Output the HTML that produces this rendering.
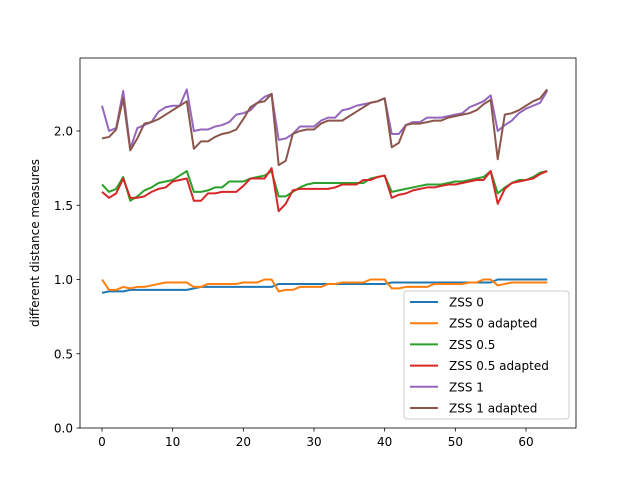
<!DOCTYPE html>
<html><head><meta charset="utf-8"><style>
body{margin:0;background:#fff;}
svg text{font-family:"DejaVu Sans","Liberation Sans",sans-serif;font-size:12px;fill:#000;}
</style></head><body>
<svg id="chart" width="640" height="480" xmlns="http://www.w3.org/2000/svg">
<rect width="640" height="480" fill="#fff"/>
<g id="plot"></g>
<rect x="80" y="58" width="496" height="370" fill="none" stroke="#000" stroke-width="0.8"/>
<g id="xt"></g><g id="yt"></g>
<text x="39" y="243" text-anchor="middle" transform="rotate(-90 39 243)">different distance measures</text>
<g id="legend"></g>
</svg>
<script>
const seriesNames=["ZSS 0","ZSS 0 adapted","ZSS 0.5","ZSS 0.5 adapted","ZSS 1","ZSS 1 adapted"];
const colors=["#1f77b4","#ff7f0e","#2ca02c","#d62728","#9467bd","#8c564b"];
const xTicks=[0,10,20,30,40,50,60];
const yTicks=[0.0,0.5,1.0,1.5,2.0];
const zss0=[0.91,0.92,0.92,0.92,0.93,0.93,0.93,0.93,0.93,0.93,0.93,0.93,0.93,0.94,0.95,0.95,0.95,0.95,0.95,0.95,0.95,0.95,0.95,0.95,0.95,0.97,0.97,0.97,0.97,0.97,0.97,0.97,0.97,0.97,0.97,0.97,0.97,0.97,0.97,0.97,0.97,0.98,0.98,0.98,0.98,0.98,0.98,0.98,0.98,0.98,0.98,0.98,0.98,0.98,0.98,0.98,1.00,1.00,1.00,1.00,1.00,1.00,1.00,1.00];
const zss0a=[1.00,0.93,0.93,0.95,0.94,0.95,0.95,0.96,0.97,0.98,0.98,0.98,0.98,0.95,0.95,0.97,0.97,0.97,0.97,0.97,0.98,0.98,0.98,1.00,1.00,0.92,0.93,0.93,0.95,0.95,0.95,0.95,0.97,0.97,0.98,0.98,0.98,0.98,1.00,1.00,1.00,0.94,0.94,0.95,0.95,0.95,0.95,0.97,0.97,0.97,0.97,0.97,0.98,0.98,1.00,1.00,0.96,0.97,0.98,0.98,0.98,0.98,0.98,0.98];
const zss05=[1.64,1.59,1.61,1.69,1.53,1.56,1.60,1.62,1.65,1.66,1.67,1.70,1.73,1.59,1.59,1.60,1.62,1.62,1.66,1.66,1.66,1.68,1.69,1.70,1.73,1.56,1.56,1.59,1.62,1.64,1.65,1.65,1.65,1.65,1.65,1.65,1.65,1.65,1.68,1.69,1.70,1.59,1.60,1.61,1.62,1.63,1.64,1.64,1.64,1.65,1.66,1.66,1.67,1.68,1.69,1.73,1.58,1.62,1.65,1.67,1.67,1.69,1.72,1.73];
const zss05a=[1.59,1.55,1.58,1.68,1.55,1.55,1.56,1.59,1.61,1.62,1.66,1.67,1.68,1.53,1.53,1.58,1.58,1.59,1.59,1.59,1.63,1.68,1.68,1.68,1.75,1.46,1.51,1.60,1.61,1.61,1.61,1.61,1.61,1.62,1.64,1.64,1.64,1.67,1.67,1.69,1.70,1.55,1.57,1.58,1.60,1.61,1.62,1.62,1.63,1.64,1.64,1.65,1.66,1.67,1.67,1.73,1.51,1.61,1.65,1.66,1.67,1.68,1.71,1.73];
const zss1=[2.17,2.00,2.02,2.27,1.88,2.02,2.04,2.06,2.13,2.16,2.17,2.17,2.28,2.00,2.01,2.01,2.03,2.04,2.06,2.11,2.12,2.14,2.19,2.23,2.25,1.94,1.95,1.98,2.03,2.03,2.03,2.07,2.09,2.09,2.14,2.15,2.17,2.18,2.19,2.20,2.22,1.98,1.98,2.04,2.06,2.06,2.09,2.09,2.09,2.10,2.11,2.12,2.16,2.18,2.20,2.24,2.00,2.04,2.07,2.12,2.15,2.17,2.19,2.27];
const zss1a=[1.95,1.96,2.01,2.22,1.87,1.95,2.05,2.06,2.08,2.11,2.14,2.17,2.20,1.88,1.93,1.93,1.96,1.98,1.99,2.01,2.08,2.16,2.19,2.20,2.25,1.77,1.80,1.98,2.00,2.01,2.01,2.05,2.07,2.07,2.07,2.10,2.13,2.16,2.19,2.20,2.22,1.89,1.92,2.04,2.05,2.05,2.06,2.07,2.07,2.09,2.10,2.11,2.12,2.14,2.18,2.21,1.81,2.11,2.12,2.14,2.17,2.20,2.22,2.28];
const allSeries=[zss0,zss0a,zss05,zss05a,zss1,zss1a];
const NS="http://www.w3.org/2000/svg";
function xs(v){return 102+v*(526-102)/60;}
function ys(v){return 428-v*148.5;}
function mk(t,a,p){const e=document.createElementNS(NS,t);for(const k in a)e.setAttribute(k,a[k]);p.appendChild(e);return e;}
const plot=document.getElementById('plot');
allSeries.forEach((s,i)=>{
  const pl=mk('polyline',{points:s.map((v,j)=>xs(j)+','+ys(v)).join(' '),fill:'none',stroke:colors[i],'stroke-width':2,'stroke-linejoin':'round'},plot);
  
  
});
const xt=document.getElementById('xt');
xTicks.forEach(t=>{
  const l=mk('line',{x1:xs(t),x2:xs(t),y1:428,y2:431.5,stroke:'#000','stroke-width':0.8},xt);
  
  
  const tx=mk('text',{x:xs(t),y:446,'text-anchor':'middle'},xt);tx.textContent=t;
  
  
});
const yt=document.getElementById('yt');
yTicks.forEach(t=>{
  const l=mk('line',{x1:76.5,x2:80,y1:ys(t),y2:ys(t),stroke:'#000','stroke-width':0.8},yt);
  
  
  const tx=mk('text',{x:73,y:ys(t)+4.5,'text-anchor':'end'},yt);tx.textContent=t.toFixed(1);
  
  
});
const lg=document.getElementById('legend');
const box=mk('rect',{x:404,y:291,width:165,height:128,rx:3,fill:'#fff','fill-opacity':0.8,stroke:'#ccc','stroke-width':1},lg);


seriesNames.forEach((n,i)=>{
  const y=302+i*21.2;
  const g=mk('g',{},lg);
  
  
  mk('line',{x1:410,x2:438,y1:y,y2:y,stroke:colors[i],'stroke-width':2},g);
  const t=mk('text',{x:449,y:y+4.5},g);t.textContent=n;
});
</script>
</body></html>
